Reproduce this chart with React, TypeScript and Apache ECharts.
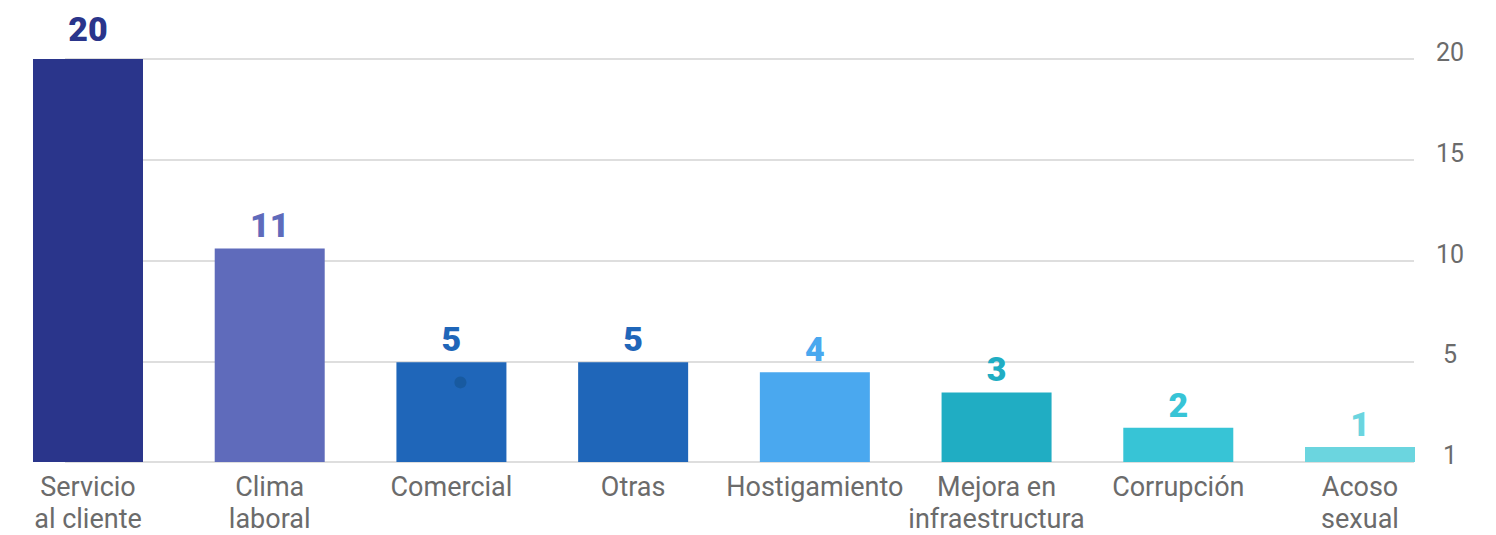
import React, { useEffect, useRef } from "react";
import * as echarts from "echarts";

const categories = [
  "Servicio\nal cliente",
  "Clima\nlaboral",
  "Comercial",
  "Otras",
  "Hostigamiento",
  "Mejora en\ninfraestructura",
  "Corrupción",
  "Acoso\nsexual",
];
const values = [20, 10.6, 4.95, 4.95, 4.45, 3.45, 1.7, 0.75];
const valueLabels = ["20", "11", "5", "5", "4", "3", "2", "1"];
const barColors = ["#2A358B", "#5F6BBB", "#1F66B9", "#1F66B9", "#4AA8EF", "#20ADC3", "#37C4D6", "#6BD5DF"];
const yTicks = [0, 5, 10, 15, 20];
const yTickLabels = ["1", "5", "10", "15", "20"];
const dotPoints: [string, number][] = [["Comercial", 3.95]];

export default function App() {
  const ref = useRef<HTMLDivElement>(null);
  useEffect(() => {
    document.body.style.margin = "0";
    const chart = echarts.init(ref.current!, null, { renderer: "svg" });
    const font = "Roboto, 'Noto Sans', sans-serif";
    chart.setOption({
      animation: false,
      grid: [
        { left: 65, right: 82, top: 59, bottom: 73, outerBoundsMode: "none", containLabel: false },
        { left: -2.86, right: 45.14, top: 59, bottom: 73, outerBoundsMode: "none", containLabel: false },
      ],
      xAxis: [
        { type: "value", gridIndex: 0, show: false, min: 0, max: 1 },
        {
          type: "category",
          gridIndex: 1,
          data: categories,
          axisLine: { show: false },
          axisTick: { show: false },
          axisLabel: {
            interval: 0,
            color: "#6b6b6b",
            fontSize: 27,
            lineHeight: 32,
            fontFamily: font,
            margin: 9,
          },
        },
      ],
      yAxis: [
        {
          type: "value",
          gridIndex: 0,
          position: "right",
          min: 0,
          max: 20,
          interval: 5,
          axisLine: { show: false },
          axisTick: { show: false },
          splitLine: { lineStyle: { color: "#dedede", width: 2 } },
          axisLabel: {
            color: "#6b6b6b",
            fontSize: 25,
            fontFamily: font,
            align: "center",
            verticalAlign: "bottom",
            lineHeight: 13,
            margin: 36,
            formatter: (v: number) => {
              const i = yTicks.indexOf(v);
              return i >= 0 ? yTickLabels[i] : "";
            },
          },
        },
        { type: "value", gridIndex: 1, min: 0, max: 20, show: false },
      ],
      series: [
        {
          type: "bar",
          xAxisIndex: 1,
          yAxisIndex: 1,
          barWidth: 110,
          data: values.map((v, i) => ({
            value: v,
            itemStyle: { color: barColors[i] },
            label: { color: barColors[i], distance: i === 0 ? 13 : 6 },
          })),
          label: {
            show: true,
            position: "top",
            fontSize: 34,
            fontWeight: 900,
            fontFamily: font,
            formatter: (p: any) => valueLabels[p.dataIndex],
          },
        },
        {
          type: "scatter",
          xAxisIndex: 1,
          yAxisIndex: 1,
          data: dotPoints,
          symbolSize: 12,
          symbolOffset: [9, 0],
          itemStyle: { color: "#17589A" },
          z: 5,
        },
      ],
    });
    return () => chart.dispose();
  }, []);
  return <div ref={ref} style={{ width: 1496, height: 535 }} />;
}
